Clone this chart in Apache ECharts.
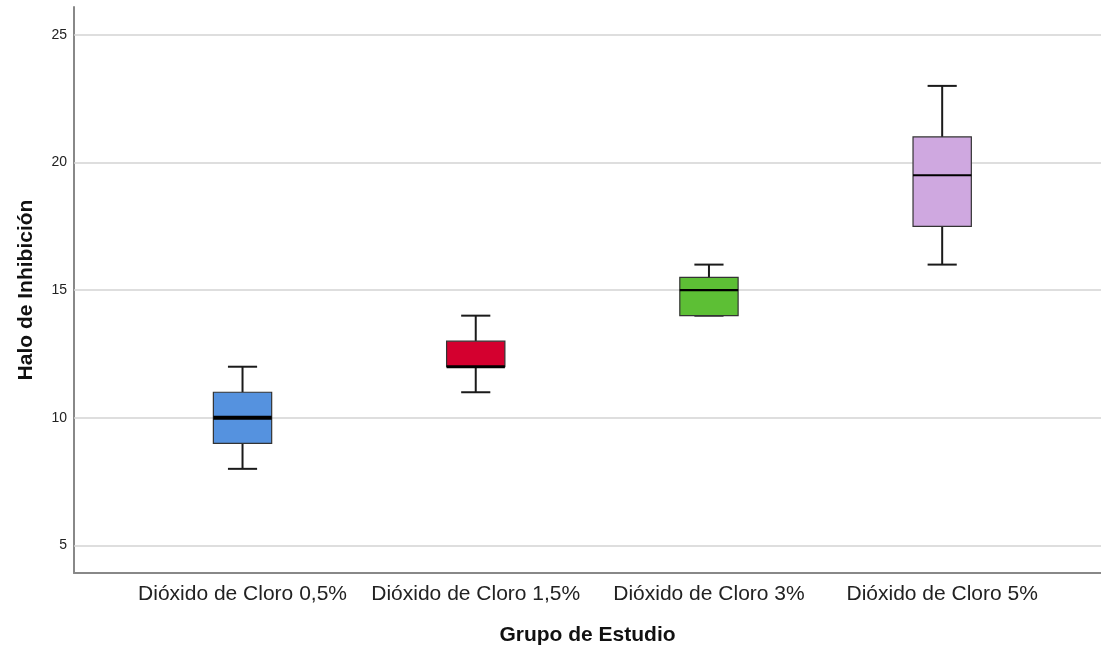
<!DOCTYPE html>
<html>
<head>
<meta charset="utf-8">
<script src="https://cdn.jsdelivr.net/npm/echarts@6/dist/echarts.min.js"></script>
<style>
  html, body { margin: 0; padding: 0; background: #fff; overflow: hidden; }
  #chart { width: 1101px; height: 651px; }
</style>
</head>
<body>
<div id="chart"></div>
<script>
// Study groups and five-number summaries of the inhibition halo
const categories = ['Dióxido de Cloro 0,5%', 'Dióxido de Cloro 1,5%', 'Dióxido de Cloro 3%', 'Dióxido de Cloro 5%'];
const whiskerLow = [8, 11, 14, 16];
const q1 = [9, 12, 14, 17.5];
const median = [10, 12, 15, 19.5];
const q3 = [11, 13, 15.5, 21];
const whiskerHigh = [12, 14, 16, 23];
const yTicks = [5, 10, 15, 20, 25];

// Box fills and median stroke widths per group
const fills = ['#5592DF', '#D4002F', '#5DBF35', '#CFA8E0'];
const medianWidths = [4, 3, 2.3, 2];

const BOX_W = 0.25;   // box width, in category units
const CAP_W = 0.125;  // whisker cap width, in category units

const data = categories.map((c, i) => [i, whiskerLow[i], q1[i], median[i], q3[i], whiskerHigh[i]]);

function renderItem(params, api) {
  const i = api.value(0);
  const pLow = api.coord([i, api.value(1)]);
  const pQ1 = api.coord([i, api.value(2)]);
  const pMed = api.coord([i, api.value(3)]);
  const pQ3 = api.coord([i, api.value(4)]);
  const pHigh = api.coord([i, api.value(5)]);
  const half = api.size([BOX_W, 0])[0] / 2;
  const capHalf = api.size([CAP_W, 0])[0] / 2;
  const x = pMed[0];
  const whisker = { stroke: '#1a1a1a', lineWidth: 2 };
  const children = [
    { type: 'line', shape: { x1: x, y1: pQ3[1], x2: x, y2: pHigh[1] }, style: whisker },
    { type: 'line', shape: { x1: x, y1: pQ1[1], x2: x, y2: pLow[1] }, style: whisker },
    { type: 'line', shape: { x1: x - capHalf, y1: pHigh[1], x2: x + capHalf, y2: pHigh[1] }, style: whisker },
    { type: 'line', shape: { x1: x - capHalf, y1: pLow[1], x2: x + capHalf, y2: pLow[1] }, style: whisker },
    {
      type: 'rect',
      shape: { x: x - half, y: pQ3[1], width: half * 2, height: pQ1[1] - pQ3[1] },
      style: { fill: fills[i], stroke: '#333', lineWidth: 1.2 }
    },
    {
      type: 'line',
      shape: { x1: x - half, y1: pMed[1], x2: x + half, y2: pMed[1] },
      style: { stroke: '#000', lineWidth: medianWidths[i] }
    }
  ];
  return { type: 'group', children };
}

const chart = echarts.init(document.getElementById('chart'), null, { renderer: 'canvas' });
chart.setOption({
  animation: false,
  backgroundColor: '#fff',
  textStyle: { fontFamily: '"Liberation Sans", Arial, sans-serif' },
  grid: { left: 74, right: 0, top: 7, bottom: 78, containLabel: false },
  xAxis: {
    type: 'value',
    position: 'bottom',
    min: -0.7226,
    max: 3.681,
    name: 'Grupo de Estudio',
    nameLocation: 'middle',
    nameGap: 52,
    nameTextStyle: { fontSize: 21, fontWeight: 'bold', color: '#111' },
    axisLine: { show: true, onZero: false, lineStyle: { color: '#888', width: 2 } },
    axisTick: { show: false },
    splitLine: { show: false },
    axisLabel: {
      fontSize: 21,
      color: '#222',
      margin: 11,
      showMinLabel: false,
      showMaxLabel: false,
      formatter: v => (Number.isInteger(v) && categories[v] !== undefined) ? categories[v] : ''
    }
  },
  yAxis: {
    type: 'value',
    position: 'left',
    min: 3.92,
    max: 26.09,
    name: 'Halo de Inhibición',
    nameLocation: 'middle',
    nameGap: 37,
    nameRotate: 90,
    nameTextStyle: { fontSize: 21, fontWeight: 'bold', color: '#111' },
    axisLine: { show: true, onZero: false, lineStyle: { color: '#888', width: 2 } },
    axisTick: { show: false },
    splitLine: { show: false },
    axisLabel: {
      fontSize: 14,
      color: '#222',
      margin: 7,
      showMinLabel: false,
      showMaxLabel: false,
      formatter: v => yTicks.includes(v) ? String(v) : ''
    }
  },
  series: [
    {
      // horizontal reference lines at the labelled ticks
      type: 'line',
      data: [],
      z: 1,
      silent: true,
      markLine: {
        silent: true,
        symbol: 'none',
        label: { show: false },
        lineStyle: { color: '#d3d3d3', width: 1.5, type: 'solid' },
        data: yTicks.map(t => ({ yAxis: t }))
      }
    },
    {
      type: 'custom',
      z: 5,
      renderItem,
      encode: { x: 0, y: [1, 2, 3, 4, 5] },
      data
    }
  ]
});
</script>
</body>
</html>
